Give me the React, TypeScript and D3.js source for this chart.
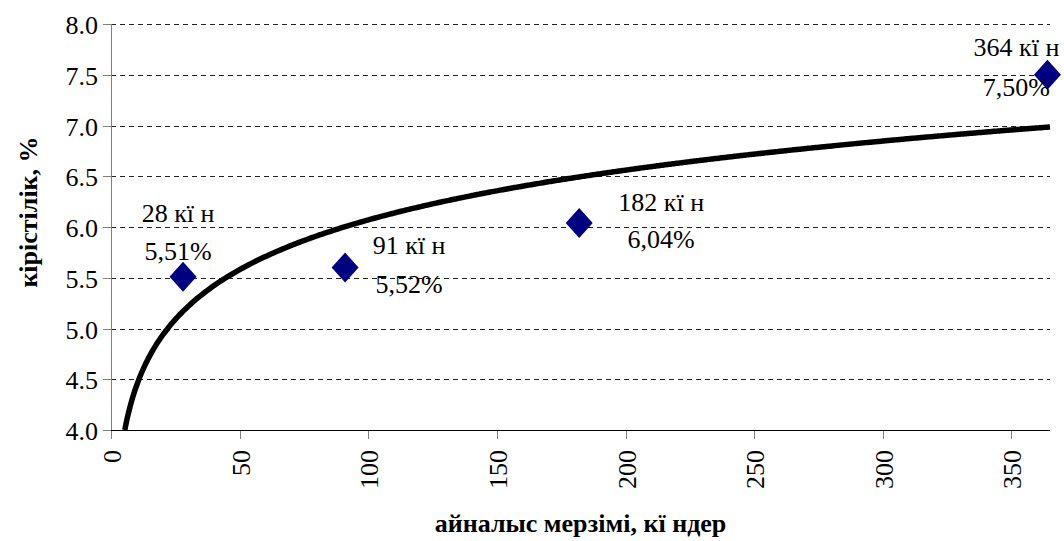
import React from "react";
import * as d3 from "d3";

// data
const days = [28, 91, 182, 364];
const yields = [5.51, 5.6, 6.04, 7.5];
const labelTop = ["28 кї н", "91 кї н", "182 кї н", "364 кї н"];
const labelBottom = ["5,51%", "5,52%", "6,04%", "7,50%"];
const xTicks = [0, 50, 100, 150, 200, 250, 300, 350];
const yTicks = [4.0, 4.5, 5.0, 5.5, 6.0, 6.5, 7.0, 7.5, 8.0];

// label placement relative to marker (dx, dy line 1, dy line 2)
const labelOffsets = [
  [-5, -55, -17],
  [64, -14, 25],
  [82, -12, 25],
  [-31, -19, 21],
];

const W = 1064;
const H = 541;
const FONT = "'Liberation Serif', 'Times New Roman', serif";

const x = d3.scaleLinear().domain([0, 365]).range([111, 1050]);
const y = d3.scaleLinear().domain([4, 8]).range([430, 24]);

// logarithmic trendline fitted to the points
const lx = days.map((d) => Math.log(d));
const mx = d3.mean(lx) as number;
const my = d3.mean(yields) as number;
const slope =
  (d3.sum(lx, (v, i) => (v - mx) * (yields[i] - my)) as number) /
  (d3.sum(lx, (v) => (v - mx) * (v - mx)) as number);
const icpt = my - slope * mx;
const xStart = Math.exp((4 - icpt) / slope);
const trendX = d3.range(xStart, 365.01, 1).concat([365]);
const trendPath = d3
  .line<number>()
  .x((d) => x(d))
  .y((d) => y(slope * Math.log(d) + icpt))
  .curve(d3.curveMonotoneX)(trendX) as string;

const fmt = d3.format(".1f");
const diamond = "M0,-15L13.5,0L0,15L-13.5,0Z";
const txt = { fontFamily: FONT, fontSize: 26 };

const App = () => {
  return (
    <svg
      width={W}
      height={H}
      fontFamily="Liberation Serif"
      style={{ position: "absolute", left: 0, top: 0, background: "#fff" }}
    >
      {/* gridlines */}
      {yTicks
        .filter((d) => d > 4)
        .map((d) => (
          <line
            key={"g" + d}
            x1={x(0)}
            x2={x(365)}
            y1={Math.round(y(d)) + 0.5}
            y2={Math.round(y(d)) + 0.5}
            stroke="#222"
            strokeDasharray="5,4"
          />
        ))}

      {/* y axis */}
      <line x1={x(0) + 0.5} x2={x(0) + 0.5} y1={y(8)} y2={y(4)} stroke="#808080" />
      {yTicks.map((d) => (
        <g key={"y" + d} transform={"translate(0," + (Math.round(y(d)) + 0.5) + ")"}>
          <line x1={x(0) - 8} x2={x(0)} stroke="#808080" />
          <text x={x(0) - 13} dy="0.35em" textAnchor="end" style={txt}>
            {fmt(d)}
          </text>
        </g>
      ))}

      {/* x axis */}
      {xTicks.map((d) => (
        <g key={"x" + d} transform={"translate(" + (Math.round(x(d)) + 0.5) + ",0)"}>
          <line y1={y(4)} y2={y(4) + 9} stroke="#808080" />
          <text
            transform={"translate(0," + (y(4) + 20) + ") rotate(-90)"}
            dy="0.35em"
            textAnchor="end"
            style={txt}
          >
            {d}
          </text>
        </g>
      ))}
      <line x1={x(0)} x2={x(365)} y1={Math.round(y(4)) + 0.5} y2={Math.round(y(4)) + 0.5} stroke="#000" />

      {/* trendline */}
      <path d={trendPath} fill="none" stroke="#000" strokeWidth={5.5} />

      {/* markers */}
      {days.map((d, i) => (
        <path
          key={"m" + d}
          d={diamond}
          transform={"translate(" + x(d) + "," + y(yields[i]) + ")"}
          fill="#000080"
        />
      ))}

      {/* data labels */}
      {days.map((d, i) => (
        <g
          key={"l" + d}
          transform={"translate(" + x(d) + "," + y(yields[i]) + ")"}
          textAnchor="middle"
        >
          <text x={labelOffsets[i][0]} y={labelOffsets[i][1]} style={txt}>
            {labelTop[i]}
          </text>
          <text x={labelOffsets[i][0]} y={labelOffsets[i][2]} style={txt}>
            {labelBottom[i]}
          </text>
        </g>
      ))}

      {/* axis titles */}
      <text
        x={(x(0) + x(365)) / 2}
        y={532}
        textAnchor="middle"
        style={{ ...txt, fontWeight: "bold" }}
      >
        айналыс мерзімі, кї ндер
      </text>
      <text
        transform="translate(37,212) rotate(-90)"
        textAnchor="middle"
        style={{ ...txt, fontWeight: "bold" }}
      >
        кірістілік, %
      </text>
    </svg>
  );
};

export default App;
